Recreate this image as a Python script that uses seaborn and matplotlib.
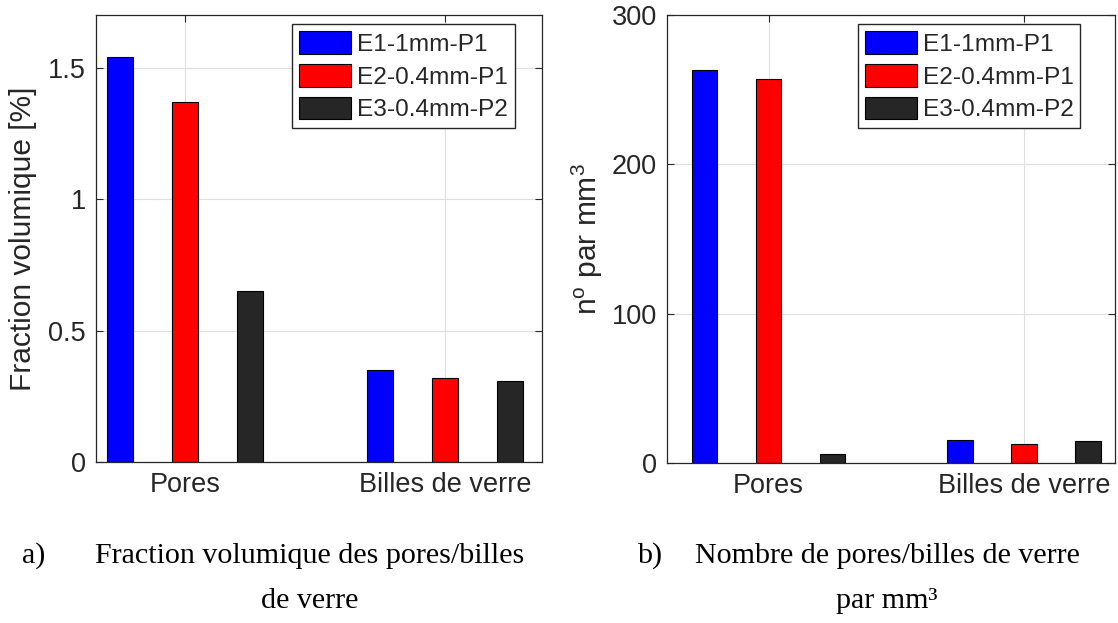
import matplotlib
matplotlib.use("Agg")
import matplotlib.pyplot as plt
import seaborn as sns
import pandas as pd

# Data
categories = ["Pores", "Billes de verre"]
series = ["E1-1mm-P1", "E2-0.4mm-P1", "E3-0.4mm-P2"]
fraction_pores = [1.54, 1.37, 0.65]
fraction_billes = [0.35, 0.32, 0.31]
count_pores = [263, 257, 6]
count_billes = [15.6, 12.8, 15.0]
colors = ["#0000ff", "#ff0000", "#262626"]

frac_ticks = [0, 0.5, 1, 1.5]
frac_ticklabels = ["0", "0.5", "1", "1.5"]
count_ticks = [0, 100, 200, 300]
count_ticklabels = ["0", "100", "200", "300"]


def long_form(pores, billes):
    rows = []
    for cat, vals in zip(categories, [pores, billes]):
        for s, v in zip(series, vals):
            rows.append({"cat": cat, "serie": s, "val": v})
    return pd.DataFrame(rows)


sns.set_theme(style="white")
plt.rcParams["font.family"] = ["Liberation Sans", "DejaVu Sans"]
plt.rcParams["mathtext.fontset"] = "custom"
plt.rcParams["mathtext.rm"] = "Liberation Sans"
plt.rcParams["mathtext.it"] = "Liberation Sans:italic"
plt.rcParams["mathtext.bf"] = "Liberation Sans:bold"

AX_COL = "#262626"
TICK_FS = 19.5
LABEL_FS = 21.5
LEG_FS = 17.6

fig = plt.figure(figsize=(11.18, 6.23), dpi=100)
ax1 = fig.add_axes([0.0856, 0.2584, 0.3989, 0.7175])
ax2 = fig.add_axes([0.5963, 0.2563, 0.4010, 0.7196])


def draw(ax, df, ylim, ticks, ticklabels, xlim, ylabel, labelpad, leg_right):
    sns.barplot(data=df, x="cat", y="val", hue="serie", palette=colors,
                width=0.75, gap=0.6, edgecolor="black", linewidth=0.8,
                saturation=1, ax=ax)
    ax.set_xlim(*xlim)
    ax.set_ylim(*ylim)
    ax.set_yticks(ticks)
    ax.set_yticklabels(ticklabels)
    ax.set_xlabel("")
    ax.set_ylabel(ylabel, fontsize=LABEL_FS, color=AX_COL, labelpad=labelpad)
    ax.grid(True, color="#dfdfdf", linewidth=0.8)
    ax.set_axisbelow(True)
    for sp in ax.spines.values():
        sp.set_visible(True)
        sp.set_color(AX_COL)
        sp.set_linewidth(0.9)
    ax.tick_params(direction="in", top=True, right=True, bottom=True, left=True,
                   length=5, width=0.8, color=AX_COL, labelsize=TICK_FS,
                   labelcolor=AX_COL, pad=7)
    handles, labels = ax.get_legend_handles_labels()
    if ax.get_legend() is not None:
        ax.get_legend().remove()
    leg = ax.legend(handles, labels, loc="upper right",
                    bbox_to_anchor=(leg_right, 0.979), borderaxespad=0,
                    fontsize=LEG_FS, frameon=True, fancybox=False,
                    framealpha=1, edgecolor=AX_COL, handlelength=2.12,
                    handleheight=1.05, handletextpad=0.25, labelspacing=0.33,
                    borderpad=0.28)
    leg.get_frame().set_linewidth(1.0)
    for h in leg.legend_handles:
        h.set_edgecolor("black")
        h.set_linewidth(0.8)


draw(ax1, long_form(fraction_pores, fraction_billes), (0, 1.7),
     frac_ticks, frac_ticklabels, (-0.345, 1.372),
     "Fraction volumique [%]", 8, 0.940)
draw(ax2, long_form(count_pores, count_billes), (0, 300),
     count_ticks, count_ticklabels, (-0.399, 1.356),
     r"n$^{\mathrm{o}}$ par mm$^{3}$", 5, 0.923)

# Captions below each panel
cap = dict(family=["Liberation Serif", "DejaVu Serif"], fontsize=21.6,
           color="black", va="center")
fig.text(22 / 1118, 1 - 556 / 623, "a)", ha="left", **cap)
fig.text(310 / 1118, 1 - 556 / 623, "Fraction volumique des pores/billes",
         ha="center", **cap)
fig.text(310 / 1118, 1 - 601 / 623, "de verre", ha="center", **cap)
fig.text(637 / 1118, 1 - 556 / 623, "b)", ha="left", **cap)
fig.text(887 / 1118, 1 - 556 / 623, "Nombre de pores/billes de verre",
         ha="center", **cap)
fig.text(887 / 1118, 1 - 601 / 623, "par mm\u00b3", ha="center", **cap)

fig.savefig("out.png", dpi=100, facecolor="white")
